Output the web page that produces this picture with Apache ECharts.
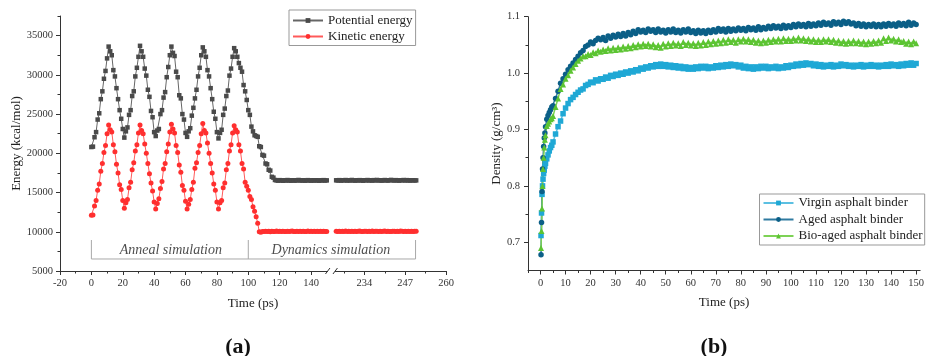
<!DOCTYPE html>
<html><head><meta charset="utf-8">
<script src="https://cdn.jsdelivr.net/npm/echarts@6/dist/echarts.min.js"></script>
<style>html,body{margin:0;padding:0;background:#fff}#c{width:927px;height:356px}</style>
</head><body><div id="c"></div>
<script>
// ---------------- (a) Energy data ----------------
// first segment sampled every 1 ps starting at 0 ps
const potentialSeg1 = [
 20800,20850,22050,22700,24300,25100,26900,27900,29500,30500,32100,33600,
 33000,32500,30600,29800,28300,26900,25500,24400,23100,22000,22800,23300,24900,25500,27300,27900,29800,30900,32300,33700,
 33000,32300,30800,29900,28100,27200,25400,24600,22700,22200,22900,23100,25000,25500,27100,27800,29700,31000,32500,33600,
 32800,32400,30400,29700,27400,27000,25000,24300,22600,22100,22800,23200,24800,25800,27000,28100,29800,30900,32500,33500,
 33000,32300,30600,29800,28300,26900,25300,24400,22700,21900,22600,23000,24900,25700,27300,28000,29900,30800,32300,33400,
 33000,32300,31500,30900,30400,28700,27900,26800,25500,24900,23400,22800,22300,22200,22100,20900,20800,19800,19700,18700,18600,17900,17800,17000,16900,16600,
 16550,16520,16580,16540,16500,16560,16530,16590,16540,16510,16570,16550,16520,16560,16600,16540,16530,16570,16510,16550,16580,16540,16520,16560,16530,16570,16550,16510,16560,16540,16580,16530,16550
];
const kineticSeg1 = [
 12100,12150,13300,14000,15300,16100,17700,18700,20100,21000,22500,23600,
 23000,22700,21100,20200,18600,17500,16000,15400,14000,13000,13700,14100,15600,16300,17900,18800,20300,21100,22600,23600,
 22900,22500,21200,20000,18700,17400,16200,15200,13800,12900,13600,14200,15500,16400,18000,18700,20200,21200,22700,23700,
 23100,22600,21000,20100,18500,17600,15900,15300,13900,12900,13500,14100,15400,16300,18100,18800,20100,21000,22500,23800,
 22900,22600,21300,20000,18700,17500,16100,15300,13800,12900,13700,14000,15600,16200,17900,18700,20300,21100,22600,23500,
 23000,22700,21100,20300,18700,18000,16300,15800,15300,14500,14100,13200,12600,11900,11100,10000,9950,
 10050,10020,10080,10040,10060,10010,10070,10050,10030,10090,10040,10060,10020,10080,10050,10030,10070,10040,10060,10100,10050,
 10020,10070,10040,10080,10030,10060,10050,10020,10090,10040,10060,10030,10070,10050,10080,10040,10060,10020,10070,10050,10040
];
// second segment (after axis break) sampled every 0.5 ps starting at 225 ps
const seg2Start = 225, seg2Step = 0.5;
const potentialSeg2 = [
 16560,16540,16580,16520,16570,16550,16590,16530,16560,16540,16600,16550,16520,16570,16540,16580,16560,16510,16570,16550,16590,16540,16560,16530,16580,16550,
 16600,16540,16570,16520,16560,16590,16550,16530,16570,16610,16560,16540,16580,16550,16520,16570,16560,16590,16540,16580,16550,16530,16570,16560,16540,16550
];
const kineticSeg2 = [
 10060,10040,10080,10030,10070,10050,10090,10040,10060,10020,10080,10050,10070,10030,10060,10090,10050,10040,10080,10060,10030,10070,10050,10090,10040,10060,
 10080,10030,10070,10050,10060,10100,10040,10070,10050,10030,10080,10060,10040,10070,10050,10090,10060,10030,10080,10050,10070,10040,10060,10050,10080,10060
];
const energyXTickLabels = [-20,0,20,40,60,80,100,120,140,234,247,260];
const energyYTicks = [5000,10000,15000,20000,25000,30000,35000];
const phaseLabels = ['Anneal simulation','Dynamics simulation'];

// ---------------- (b) Density data ----------------
const densityTimeEarly = [0.2,0.4,0.6,0.8,1,1.25,1.5,1.75,2,2.5,3,3.5,4,4.5]; // then every 1 ps from 5 to 150
const virgin = [
 0.712,0.752,0.785,0.8,0.812,0.822,0.828,0.835,0.84,0.848,0.855,0.862,0.868,0.872,
 0.878,0.892,0.905,0.915,0.928,0.938,0.946,0.953,0.957,0.962,
 0.966,0.97,0.972,0.978,0.98,0.984,0.983,0.988,0.986,0.99,
 0.989,0.993,0.991,0.996,0.994,0.998,0.996,1.0,0.998,1.002,
 1.0,1.004,1.002,1.006,1.004,1.009,1.007,1.011,1.009,1.013,
 1.011,1.015,1.012,1.016,1.012,1.015,1.011,1.014,1.01,1.013,
 1.009,1.012,1.008,1.011,1.007,1.01,1.007,1.011,1.008,1.012,
 1.009,1.012,1.008,1.011,1.009,1.013,1.01,1.014,1.011,1.015,
 1.012,1.016,1.013,1.015,1.011,1.014,1.009,1.012,1.008,1.011,
 1.007,1.011,1.008,1.012,1.009,1.012,1.008,1.011,1.009,1.012,
 1.008,1.011,1.009,1.013,1.01,1.014,1.012,1.016,1.013,1.017,
 1.014,1.018,1.015,1.017,1.013,1.016,1.012,1.015,1.011,1.014,
 1.012,1.015,1.011,1.014,1.012,1.016,1.013,1.015,1.012,1.014,
 1.011,1.014,1.012,1.015,1.011,1.014,1.012,1.015,1.012,1.014,
 1.011,1.014,1.012,1.015,1.012,1.016,1.013,1.015,1.012,1.016,
 1.013,1.017,1.014,1.018,1.014,1.017
];
const aged = [
 0.678,0.735,0.79,0.83,0.85,0.87,0.885,0.894,0.905,0.918,0.925,0.93,0.935,0.94,
 0.942,0.955,0.968,0.982,0.99,0.998,1.006,1.012,1.018,1.024,
 1.03,1.036,1.04,1.047,1.05,1.055,1.052,1.058,1.062,1.059,
 1.063,1.058,1.066,1.062,1.067,1.064,1.069,1.065,1.07,1.066,
 1.072,1.068,1.074,1.07,1.077,1.073,1.076,1.072,1.078,1.074,
 1.077,1.072,1.078,1.073,1.076,1.071,1.077,1.073,1.078,1.072,
 1.076,1.071,1.077,1.073,1.078,1.072,1.075,1.07,1.076,1.071,
 1.075,1.07,1.076,1.072,1.077,1.073,1.079,1.074,1.078,1.073,
 1.079,1.074,1.078,1.075,1.08,1.076,1.079,1.075,1.081,1.077,
 1.08,1.076,1.082,1.077,1.081,1.078,1.083,1.079,1.084,1.08,
 1.083,1.079,1.085,1.08,1.084,1.081,1.086,1.082,1.087,1.083,
 1.086,1.082,1.088,1.083,1.087,1.084,1.089,1.085,1.09,1.086,
 1.089,1.085,1.091,1.087,1.09,1.086,1.092,1.088,1.091,1.087,
 1.089,1.084,1.088,1.083,1.087,1.082,1.086,1.083,1.087,1.082,
 1.086,1.082,1.087,1.083,1.088,1.084,1.087,1.083,1.089,1.085,
 1.088,1.084,1.09,1.085,1.089,1.086
];
const bioAged = [
 0.69,0.72,0.76,0.8,0.83,0.85,0.868,0.882,0.89,0.906,0.91,0.914,0.918,0.92,
 0.924,0.94,0.955,0.972,0.98,0.99,0.996,1.004,1.01,1.016,
 1.022,1.026,1.03,1.03,1.034,1.032,1.037,1.035,1.04,1.038,
 1.042,1.039,1.044,1.04,1.045,1.041,1.046,1.042,1.047,1.043,
 1.048,1.044,1.05,1.046,1.051,1.047,1.052,1.048,1.052,1.047,
 1.051,1.046,1.05,1.045,1.052,1.047,1.053,1.048,1.054,1.049,
 1.053,1.048,1.055,1.05,1.054,1.049,1.053,1.048,1.054,1.049,
 1.055,1.05,1.056,1.051,1.057,1.052,1.058,1.053,1.059,1.054,
 1.06,1.055,1.059,1.054,1.06,1.056,1.061,1.056,1.06,1.055,
 1.059,1.054,1.058,1.053,1.058,1.054,1.059,1.055,1.06,1.056,
 1.061,1.056,1.062,1.057,1.061,1.057,1.062,1.058,1.063,1.058,
 1.062,1.057,1.061,1.056,1.06,1.055,1.059,1.055,1.06,1.056,
 1.06,1.055,1.059,1.054,1.058,1.053,1.057,1.052,1.057,1.053,
 1.058,1.053,1.057,1.052,1.056,1.051,1.056,1.052,1.057,1.053,
 1.058,1.054,1.062,1.057,1.063,1.058,1.061,1.056,1.06,1.055,
 1.057,1.052,1.056,1.051,1.056,1.053
];
const densityXTicks = [0,10,20,30,40,50,60,70,80,90,100,110,120,130,140,150];
const densityYTicks = [0.7,0.8,0.9,1.0,1.1];

// ---------------- helpers ----------------
// broken time axis: 1:1 up to the break, stretched x2 after it
function u(t){ return t <= 150 ? t : 200 + 2 * (t - 247); }
function seg1(vals){ return vals.map((v,i)=>[u(i), v]); }
function seg2(vals){ return vals.map((v,i)=>[u(seg2Start + i*seg2Step), v]); }
const densityTimes = densityTimeEarly.slice();
for (let t = 5; t <= 150; t++) densityTimes.push(t);
function dens(vals){ return vals.map((v,i)=>[densityTimes[i], v]); }

const labelByU = {};
energyXTickLabels.forEach(t => { labelByU[u(t)] = String(t); });
const energyXTickU = energyXTickLabels.map(u);
const energyXMinorU = [-10,10,30,50,70,90,110,130].concat([227.5,240.5,253.5].map(u));
const energyYMinor = [7500,12500,17500,22500,27500,32500,37500];
const densXMinor = [-5,5,15,25,35,45,55,65,75,85,95,105,115,125,135,145];
const densYMinor = [0.75,0.85,0.95,1.05];

const FONT = 'Liberation Serif';
const AX = '#333';
const tickLbl = {fontFamily: FONT, fontSize: 10.5, color: '#333'};

const chart = echarts.init(document.getElementById('c'), null, {renderer: 'canvas'});

function minorAxis(extra){
  return Object.assign({
    type: 'value', axisLine: {show: false, onZero: false}, splitLine: {show: false},
    axisLabel: {show: false},
  }, extra);
}

const option = {
  animation: false,
  textStyle: {fontFamily: FONT},
  title: [
    {text: '(a)', left: 233, top: 331, textAlign: 'center',
     textStyle: {fontFamily: FONT, fontSize: 22, fontWeight: 'bold', color: '#111'}},
    {text: '(b)', left: 709, top: 331, textAlign: 'center',
     textStyle: {fontFamily: FONT, fontSize: 22, fontWeight: 'bold', color: '#111'}}
  ],
  legend: [
    {data: ['Potential energy','Kinetic energy'], orient: 'vertical', left: 289, top: 10,
     itemWidth: 30, itemHeight: 6, itemGap: 2, padding: [3.5,3,2,3],
     borderColor: '#999', borderWidth: 1, borderRadius: 0,
     textStyle: {fontFamily: FONT, fontSize: 13, color: '#222', lineHeight: 14}},
    {data: ['Virgin asphalt binder','Aged asphalt binder','Bio-aged asphalt binder'], orient: 'vertical', left: 759.5, top: 194,
     itemWidth: 30, itemHeight: 6, itemGap: 2.5, padding: [2,2,2,3],
     borderColor: '#999', borderWidth: 1, borderRadius: 0,
     textStyle: {fontFamily: FONT, fontSize: 13, color: '#222', lineHeight: 14}}
  ],
  grid: [
    {left: 60, top: 16, width: 386, height: 255},
    {left: 528, top: 16.7, width: 399, height: 253.8}
  ],
  xAxis: [
    {type: 'value', gridIndex: 0, min: -20, max: 226, position: 'bottom',
     axisLine: {onZero: false, lineStyle: {color: AX, width: 1}},
     axisTick: {customValues: energyXTickU, length: 4, lineStyle: {color: AX}},
     axisLabel: Object.assign({customValues: energyXTickU, margin: 7, formatter: v => labelByU[v] ?? ''}, tickLbl),
     splitLine: {show: false},
     name: 'Time (ps)', nameLocation: 'middle', nameGap: 26,
     nameTextStyle: {fontFamily: FONT, fontSize: 13, color: '#222'}},
    minorAxis({gridIndex: 0, min: -20, max: 226, position: 'bottom',
     axisTick: {customValues: energyXMinorU, length: 2.5, lineStyle: {color: AX}}}),
    {type: 'value', gridIndex: 1, min: -5, max: 151.6, position: 'bottom',
     axisLine: {onZero: false, lineStyle: {color: AX, width: 1}},
     axisTick: {customValues: densityXTicks, length: 4, lineStyle: {color: AX}},
     axisLabel: Object.assign({customValues: densityXTicks, margin: 7}, tickLbl),
     splitLine: {show: false},
     name: 'Time (ps)', nameLocation: 'middle', nameGap: 26,
     nameTextStyle: {fontFamily: FONT, fontSize: 13, color: '#222'}},
    minorAxis({gridIndex: 1, min: -5, max: 151.6, position: 'bottom',
     axisTick: {customValues: densXMinor, length: 2.5, lineStyle: {color: AX}}})
  ],
  yAxis: [
    {type: 'value', gridIndex: 0, min: 5000, max: 37500, position: 'left',
     axisLine: {show: true, onZero: false, lineStyle: {color: AX, width: 1}},
     axisTick: {show: true, customValues: energyYTicks, length: 4, lineStyle: {color: AX}},
     axisLabel: Object.assign({customValues: energyYTicks, margin: 7, formatter: v => String(v)}, tickLbl),
     splitLine: {show: false},
     name: 'Energy (kcal/mol)', nameLocation: 'middle', nameGap: 35, nameRotate: 90,
     nameTextStyle: {fontFamily: FONT, fontSize: 13, color: '#222'}},
    minorAxis({gridIndex: 0, min: 5000, max: 37500, position: 'left',
     axisTick: {show: true, customValues: energyYMinor, length: 2.5, lineStyle: {color: AX}}}),
    {type: 'value', gridIndex: 1, min: 0.65, max: 1.1, position: 'left',
     axisLine: {show: true, onZero: false, lineStyle: {color: AX, width: 1}},
     axisTick: {show: true, customValues: densityYTicks, length: 4, lineStyle: {color: AX}},
     axisLabel: Object.assign({customValues: densityYTicks, margin: 8, formatter: v => v.toFixed(1)}, tickLbl),
     splitLine: {show: false},
     name: 'Density (g/cm³)', nameLocation: 'middle', nameGap: 23, nameRotate: 90,
     nameTextStyle: {fontFamily: FONT, fontSize: 13, color: '#222'}},
    minorAxis({gridIndex: 1, min: 0.65, max: 1.1, position: 'left',
     axisTick: {show: true, customValues: densYMinor, length: 2.5, lineStyle: {color: AX}}})
  ],
  series: []
};

function eSeries(name, data, symbol, size, color, lineColor){
  return {name, type: 'line', xAxisIndex: 0, yAxisIndex: 0, data,
    symbol, symbolSize: size, showSymbol: true,
    itemStyle: {color}, lineStyle: {color: lineColor, width: 1}, z: 3};
}
option.series.push(
  eSeries('Potential energy', seg1(potentialSeg1), 'rect', 4.5, '#4a4a4a', '#666'),
  eSeries('Potential energy', seg2(potentialSeg2), 'rect', 4.5, '#4a4a4a', '#666'),
  eSeries('Kinetic energy', seg1(kineticSeg1), 'circle', 5, '#ff2f2f', '#ff5a5a'),
  eSeries('Kinetic energy', seg2(kineticSeg2), 'circle', 5, '#ff2f2f', '#ff5a5a')
);
// phase bracket and labels (in data coordinates)
const bracketTop = 8950, bracketBottom = 6530, bracketEnd = 206.6;
option.series.push({
  type: 'line', xAxisIndex: 0, yAxisIndex: 0, silent: true, symbol: 'none',
  lineStyle: {color: '#a8a8a8', width: 1}, z: 1,
  data: [[0,bracketTop],[0,bracketBottom],[bracketEnd,bracketBottom],[bracketEnd,bracketTop]]
},{
  type: 'line', xAxisIndex: 0, yAxisIndex: 0, silent: true, symbol: 'none',
  lineStyle: {color: '#a8a8a8', width: 1}, z: 1,
  data: [[100,bracketTop],[100,bracketBottom]]
},{
  type: 'scatter', xAxisIndex: 0, yAxisIndex: 0, silent: true, symbolSize: 1,
  itemStyle: {color: 'rgba(0,0,0,0)'}, z: 2,
  label: {show: true, position: 'inside', fontFamily: FONT, fontSize: 14, fontStyle: 'italic', color: '#222',
          formatter: p => p.data.name},
  data: [{name: phaseLabels[0], value: [50.6, 7680]}, {name: phaseLabels[1], value: [152.6, 7680]}]
});

function dSeries(name, vals, symbol, size, color, lineColor){
  return {name, type: 'line', xAxisIndex: 2, yAxisIndex: 2, data: dens(vals),
    symbol, symbolSize: size, showSymbol: true,
    itemStyle: {color}, lineStyle: {color: lineColor, width: 1.5}, z: 3};
}
option.series.push(
  dSeries('Virgin asphalt binder', virgin, 'rect', 5.5, '#1fa8d5', '#5cc0e2'),
  dSeries('Aged asphalt binder', aged, 'circle', 5.5, '#0b5f87', '#2f7aa0'),
  dSeries('Bio-aged asphalt binder', bioAged, 'triangle', 6, '#5cc432', '#7dd255')
);

chart.setOption(option);

// axis break marker on the energy time axis
const bx = chart.convertToPixel({xAxisIndex: 0}, 153);
const by = chart.convertToPixel({yAxisIndex: 0}, 5000);
chart.setOption({graphic: [
  {type: 'rect', shape: {x: bx - 3.5, y: by - 1.5, width: 7, height: 3}, style: {fill: '#fff'}, z: 100},
  {type: 'line', shape: {x1: bx - 6, y1: by + 3, x2: bx - 1.5, y2: by - 3}, style: {stroke: AX, lineWidth: 1}, z: 101},
  {type: 'line', shape: {x1: bx + 1.5, y1: by + 3, x2: bx + 6, y2: by - 3}, style: {stroke: AX, lineWidth: 1}, z: 101}
]});
</script></body></html>
